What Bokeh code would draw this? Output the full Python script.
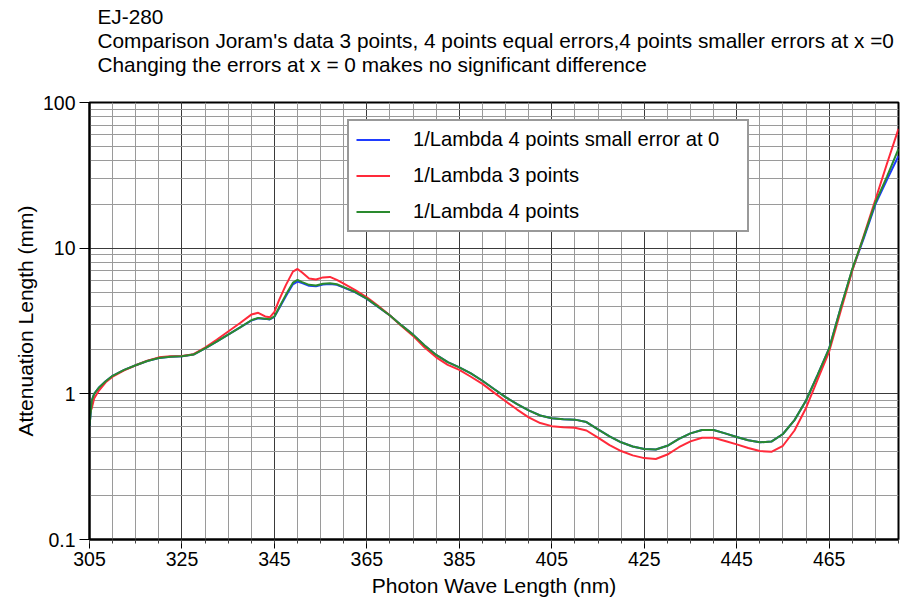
from bokeh.plotting import figure
from bokeh.models import FixedTicker, Legend, LegendItem, Title
from bokeh.embed import file_html
from bokeh.resources import INLINE

# Attenuation length of EJ-280 versus photon wavelength, three fit variants
wavelength_nm = [
    305, 305.5, 306, 307, 308.5, 310, 312.5, 315, 317.5, 320, 322.5, 325, 327.5,
    330, 332.5, 335, 337.5, 340, 341.5, 343, 344, 345, 346, 347.5, 349, 350, 351,
    352.5, 354, 355.5, 357, 358.5, 360, 362.5, 365, 367.5, 370, 372.5, 375, 377.5,
    380, 382.5, 385, 387.5, 390, 392.5, 395, 397.5, 400, 402.5, 405, 407.5, 410,
    412.5, 415, 417.5, 420, 422.5, 425, 427.5, 430, 432.5, 435, 437.5, 440, 442.5,
    445, 447.5, 450, 452.5, 455, 457.5, 460, 462.5, 465, 467.5, 470, 472.5, 475,
    477.5, 480,
]

# 1/Lambda, 4 points, equal errors
atten_4pts = [
    0.60, 0.90, 1.00, 1.10, 1.22, 1.33, 1.46, 1.57, 1.68, 1.76, 1.80, 1.81, 1.86,
    2.05, 2.28, 2.55, 2.85, 3.20, 3.32, 3.28, 3.25, 3.40, 3.90, 4.80, 5.80, 6.05, 5.85,
    5.60, 5.55, 5.70, 5.75, 5.65, 5.40, 5.00, 4.50, 3.95, 3.45, 2.95, 2.55, 2.15,
    1.85, 1.65, 1.52, 1.38, 1.23, 1.08, 0.95, 0.85, 0.77, 0.71, 0.68, 0.67, 0.665,
    0.64, 0.57, 0.51, 0.465, 0.435, 0.418, 0.415, 0.44, 0.49, 0.535, 0.565, 0.565, 0.535,
    0.505, 0.48, 0.465, 0.47, 0.53, 0.66, 0.90, 1.35, 2.05, 3.9, 7.2, 12.0, 20.5,
    31.0, 48.0,
]

# 1/Lambda, 3 points
atten_3pts = [
    0.72, 0.80, 0.93, 1.05, 1.20, 1.31, 1.45, 1.57, 1.69, 1.78, 1.81, 1.82, 1.87,
    2.08, 2.35, 2.68, 3.05, 3.50, 3.60, 3.40, 3.35, 3.65, 4.40, 5.60, 6.90, 7.20, 6.80,
    6.20, 6.10, 6.30, 6.35, 6.05, 5.70, 5.15, 4.60, 4.00, 3.45, 2.92, 2.50, 2.08,
    1.78, 1.58, 1.46, 1.31, 1.17, 1.02, 0.89, 0.78, 0.69, 0.63, 0.60, 0.59, 0.585,
    0.56, 0.50, 0.445, 0.405, 0.378, 0.362, 0.357, 0.383, 0.43, 0.472, 0.50, 0.50, 0.475,
    0.45, 0.425, 0.405, 0.40, 0.44, 0.56, 0.80, 1.25, 1.95, 3.7, 7.0, 12.2, 21.5,
    38.0, 66.0,
]

# 1/Lambda, 4 points, smaller error at x = 0
atten_4pts_small = [
    0.60, 0.90, 1.00, 1.10, 1.22, 1.33, 1.46, 1.57, 1.68, 1.76, 1.80, 1.81, 1.86,
    2.05, 2.28, 2.55, 2.85, 3.18, 3.30, 3.27, 3.24, 3.38, 3.85, 4.70, 5.65, 5.90, 5.75,
    5.52, 5.48, 5.62, 5.68, 5.60, 5.36, 4.98, 4.48, 3.94, 3.45, 2.95, 2.55, 2.15,
    1.85, 1.65, 1.52, 1.38, 1.23, 1.08, 0.95, 0.85, 0.77, 0.71, 0.68, 0.67, 0.665,
    0.64, 0.57, 0.51, 0.465, 0.435, 0.418, 0.415, 0.44, 0.49, 0.535, 0.565, 0.565, 0.535,
    0.505, 0.48, 0.465, 0.47, 0.53, 0.66, 0.90, 1.35, 2.05, 3.9, 7.1, 11.7, 20.0,
    29.5, 43.0,
]

x_major = [305, 325, 345, 365, 385, 405, 425, 445, 465]
x_minor = list(range(305, 481, 5))
y_major = [0.1, 1, 10, 100]
y_major_labels = ["0.1", "1", "10", "100"]
y_minor = [m * d for d in (0.1, 1, 10) for m in range(2, 10)]

title_lines = [
    "EJ-280",
    "Comparison Joram's data 3 points, 4 points equal errors,4 points smaller errors at x =0",
    "Changing the errors at x = 0 makes no significant difference",
]

FONT = "Liberation Sans"
FS = "19.5px"
FS_LEGEND = "20.2px"
FS_TITLE = "20.8px"
FS_AXIS = "21px"

p = figure(
    width=907, height=599,
    x_range=(305, 480), y_range=(0.1, 100),
    y_axis_type="log",
    output_backend="svg", toolbar_location=None,
    min_border_left=89, min_border_right=9,
    min_border_top=102, min_border_bottom=59,
    background_fill_color="white", border_fill_color="white",
)
p.outline_line_color = "black"
p.outline_line_width = 2

# three-line heading, left aligned above the frame; a blank last line keeps a gap to the frame
p.add_layout(Title(text="\n".join(title_lines + [" "]), align="left", offset=8,
                   text_font=FONT, text_font_size=FS_TITLE, text_font_style="normal",
                   text_color="black", text_line_height=1.05,
                   standoff=4, vertical_align="bottom"), "above")

# axes
xt = FixedTicker(ticks=x_major, minor_ticks=x_minor)
yt = FixedTicker(ticks=y_major, minor_ticks=y_minor)
p.xaxis.ticker = xt
p.yaxis.ticker = yt
p.yaxis.major_label_overrides = {v: s for v, s in zip(y_major, y_major_labels)}

for ax in (p.xaxis[0], p.yaxis[0]):
    ax.axis_line_color = "black"
    ax.axis_line_width = 2
    ax.major_tick_line_color = "black"
    ax.major_tick_line_width = 1
    ax.major_tick_in = 0
    ax.minor_tick_in = 0
    ax.minor_tick_line_color = "#444444"
    ax.major_label_text_font = FONT
    ax.major_label_text_font_size = FS
    ax.major_label_text_color = "black"
    ax.axis_label_text_font = FONT
    ax.axis_label_text_font_size = FS_AXIS
    ax.axis_label_text_font_style = "normal"
    ax.axis_label_text_color = "black"

p.xaxis.axis_label = "Photon Wave Length (nm)"
p.yaxis.axis_label = "Attenuation Length (mm)"
p.xaxis.major_tick_out = 9
p.xaxis.minor_tick_out = 4
p.xaxis.major_label_standoff = 3
p.xaxis.axis_label_standoff = 5
p.yaxis.major_tick_out = 10
p.yaxis.minor_tick_out = 0
p.yaxis.major_label_standoff = 4
p.yaxis.axis_label_standoff = 3

# grid
p.xgrid.ticker = xt
p.ygrid.ticker = yt
for g in (p.xgrid[0], p.ygrid[0]):
    g.grid_line_color = "#3a3a3a"
    g.grid_line_width = 1
    g.minor_grid_line_color = "#9a9a9a"
    g.minor_grid_line_width = 1

# curves
r_blue = p.line(wavelength_nm, atten_4pts_small, line_color="#1f3cff", line_width=2)
r_red = p.line(wavelength_nm, atten_3pts, line_color="#ff2a3a", line_width=2)
r_green = p.line(wavelength_nm, atten_4pts, line_color="#2a8a2e", line_width=2)

legend = Legend(
    items=[
        LegendItem(label="1/Lambda 4 points small error at 0", renderers=[r_blue]),
        LegendItem(label="1/Lambda 3 points", renderers=[r_red]),
        LegendItem(label="1/Lambda 4 points", renderers=[r_green]),
    ],
    location=(258, 307),
    padding=7, spacing=13,
    glyph_width=34, glyph_height=19, label_height=19, label_width=327,
    label_standoff=23,
    label_text_font=FONT, label_text_font_size=FS_LEGEND, label_text_color="black",
    border_line_color="#333333", border_line_width=2,
    background_fill_color="white", background_fill_alpha=1,
)
p.add_layout(legend, "center")

open("out.html", "w").write(file_html(p, INLINE))
